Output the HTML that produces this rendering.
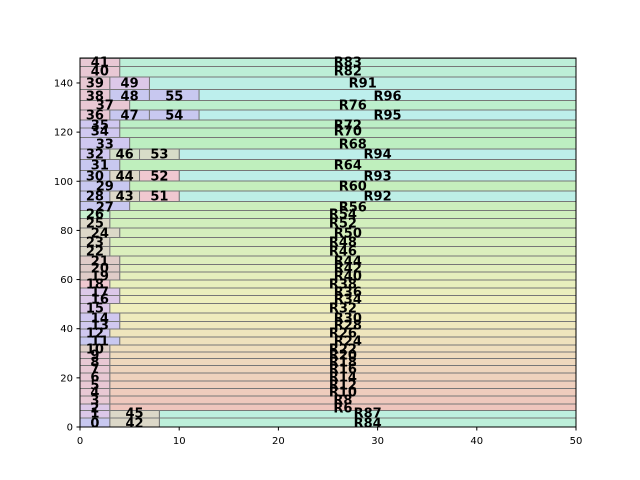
<!DOCTYPE html>
<html><head><meta charset="utf-8"><style>
body{margin:0;background:#fff}
svg{display:block;font-family:"DejaVu Sans","Liberation Sans",sans-serif}
</style></head><body>
<svg id="chart" width="640" height="480">
<g id="bars"></g>
<g id="labels"></g>
<rect x="80" y="58" width="496" height="369" fill="none" stroke="#000" stroke-width="1"/>
<g id="axes"></g>
</svg>
<script>
// row data (data units)
const rowIds = [0,1,2,3,4,5,6,7,8,9,10,11,12,13,14,15,16,17,18,19,20,21,22,23,24,25,26,27,28,29,30,31,32,33,34,35,36,37,38,39,40,41];
const rowCentersPx = [423,413,408,400,392,385,377,369,362,355,349,341,333,325,318,308,299,292,284,276,268,261,251,242,233,223,214,207,196,186,176,165,154,144,131,125,115,105,96,83,71,62];
const leftEnds = [3,3,3,3,3,3,3,3,3,3,3,4,3,4,4,3,4,4,3,4,4,4,3,3,4,3,3,5,3,5,3,4,3,5,4,4,3,5,3,3,4,4];
const leftColors = ['#c8c8f0','#dcc8e8','#dcc8e8','#e8c8d4','#e8c8d4','#e8c8d4','#e8c8d4','#e8c8d4','#e8c8d4','#e8c8d4','#e0d0c8','#c8c8f0','#d0c8f0','#d0c8f0','#d0c8f0','#dcc8e8','#dcc8e8','#dcc8e8','#f0c8d0','#e0ccc8','#e0ccc8','#e0ccc8','#dcd8c8','#dcd8c8','#dcd8c8','#dcd8c8','#c8f0d0','#c8c8f0','#c8c8f0','#c8c8f0','#c8c8f0','#c8c8f0','#d0c8f0','#d0c8f0','#d0c8f0','#d0c8f0','#e8c8d4','#e8c8d4','#e8c8d4','#e8c8d4','#e8c8d4','#e8c8d4'];
const rightLabels = ['R84','R87','R6','R8','R10','R12','R14','R16','R18','R20','R22','R24','R26','R28','R30','R32','R34','R36','R38','R40','R42','R44','R46','R48','R50','R52','R54','R56','R92','R60','R93','R64','R94','R68','R70','R72','R95','R76','R96','R91','R82','R83'];
// middle segments: [rowIndex, x0, x1, label, color]
const midRows = [0,1,28,28,30,30,32,32,36,36,38,38,39];
const midStart = [3,3,3,6,3,6,3,6,3,7,3,7,3];
const midEnd = [8,8,6,10,6,10,6,10,7,12,7,12,7];
const midLabels = ['42','45','43','51','44','52','46','53','47','54','48','55','49'];
const midColors = ['#dcd8c8','#dcd8c8','#dcd8c8','#f0c8d0','#dcd8c8','#f0c8d0','#d4e0c8','#d8dcc8','#c8c8f0','#c8c8f0','#c8c8f0','#c8c8f0','#dcc8e8'];
const xTicks = [0,10,20,30,40,50];
const yTicks = [0,20,40,60,80,100,120,140];

const X0=80,X1=576,Y0=427,YT=58.4,XMAX=50,YMAX=150;
const sx=v=>X0+(X1-X0)*v/XMAX;
const sy=v=>Y0-(Y0-YT)*v/YMAX;
const inv=p=>(Y0-p)*YMAX/(Y0-YT);
const NS='http://www.w3.org/2000/svg';
const bars=document.getElementById('bars'),labels=document.getElementById('labels'),axes=document.getElementById('axes');
function rightColor(lbl){const n=+lbl.slice(1);const h=10+1.85*(n-6);return 'hsl('+h+',62%,84%)';}
const centers=rowCentersPx.map(inv);
const bottoms=[],tops=[];
for(let i=0;i<centers.length;i++){
  bottoms.push(i===0?0:(centers[i-1]+centers[i])/2);
  tops.push(i===centers.length-1?YMAX:(centers[i]+centers[i+1])/2);
}
function seg(i,x0,x1,fill,txt,name){
  const r=document.createElementNS(NS,'rect');
  const xa=sx(x0),xb=Math.min(sx(x1),X1);
  r.setAttribute('x',xa);r.setAttribute('y',sy(tops[i]));
  r.setAttribute('width',xb-xa);r.setAttribute('height',sy(bottoms[i])-sy(tops[i]));
  r.setAttribute('fill',fill);r.setAttribute('stroke','#777');r.setAttribute('stroke-width','1');
  
  
  bars.appendChild(r);
  const t=document.createElementNS(NS,'text');
  t.setAttribute('x',(xa+xb)/2);t.setAttribute('y',sy(centers[i])+4.5);
  t.setAttribute('text-anchor','middle');t.setAttribute('font-weight','bold');t.setAttribute('font-size','13');
  t.textContent=txt;
  
  
  labels.appendChild(t);
}
for(let i=0;i<rowIds.length;i++){
  const mids=[];midRows.forEach((r,k)=>{if(r===i)mids.push(k);});
  const re=mids.length?Math.max(...mids.map(k=>midEnd[k])):leftEnds[i];
  seg(i,re,XMAX,rightColor(rightLabels[i]),rightLabels[i],'bar-'+rightLabels[i]);
  mids.forEach(k=>seg(i,midStart[k],midEnd[k],midColors[k],midLabels[k],'bar-'+midLabels[k]));
  seg(i,0,leftEnds[i],leftColors[i],String(rowIds[i]),'bar-row-'+rowIds[i]);
}
xTicks.forEach(v=>{
  const l=document.createElementNS(NS,'line');
  l.setAttribute('x1',sx(v));l.setAttribute('x2',sx(v));l.setAttribute('y1',Y0);l.setAttribute('y2',Y0+3.5);l.setAttribute('stroke','#000');
  
  
  axes.appendChild(l);
  const t=document.createElementNS(NS,'text');
  t.setAttribute('x',sx(v));t.setAttribute('y',Y0+17);t.setAttribute('text-anchor','middle');t.setAttribute('font-size','10');
  t.textContent=v;
  
  
  axes.appendChild(t);
});
yTicks.forEach(v=>{
  const l=document.createElementNS(NS,'line');
  l.setAttribute('x1',X0-3.5);l.setAttribute('x2',X0);l.setAttribute('y1',sy(v));l.setAttribute('y2',sy(v));l.setAttribute('stroke','#000');
  
  
  axes.appendChild(l);
  const t=document.createElementNS(NS,'text');
  t.setAttribute('x',X0-7);t.setAttribute('y',sy(v)+3.5);t.setAttribute('text-anchor','end');t.setAttribute('font-size','10');
  t.textContent=v;
  
  
  axes.appendChild(t);
});
</script>
</body></html>
